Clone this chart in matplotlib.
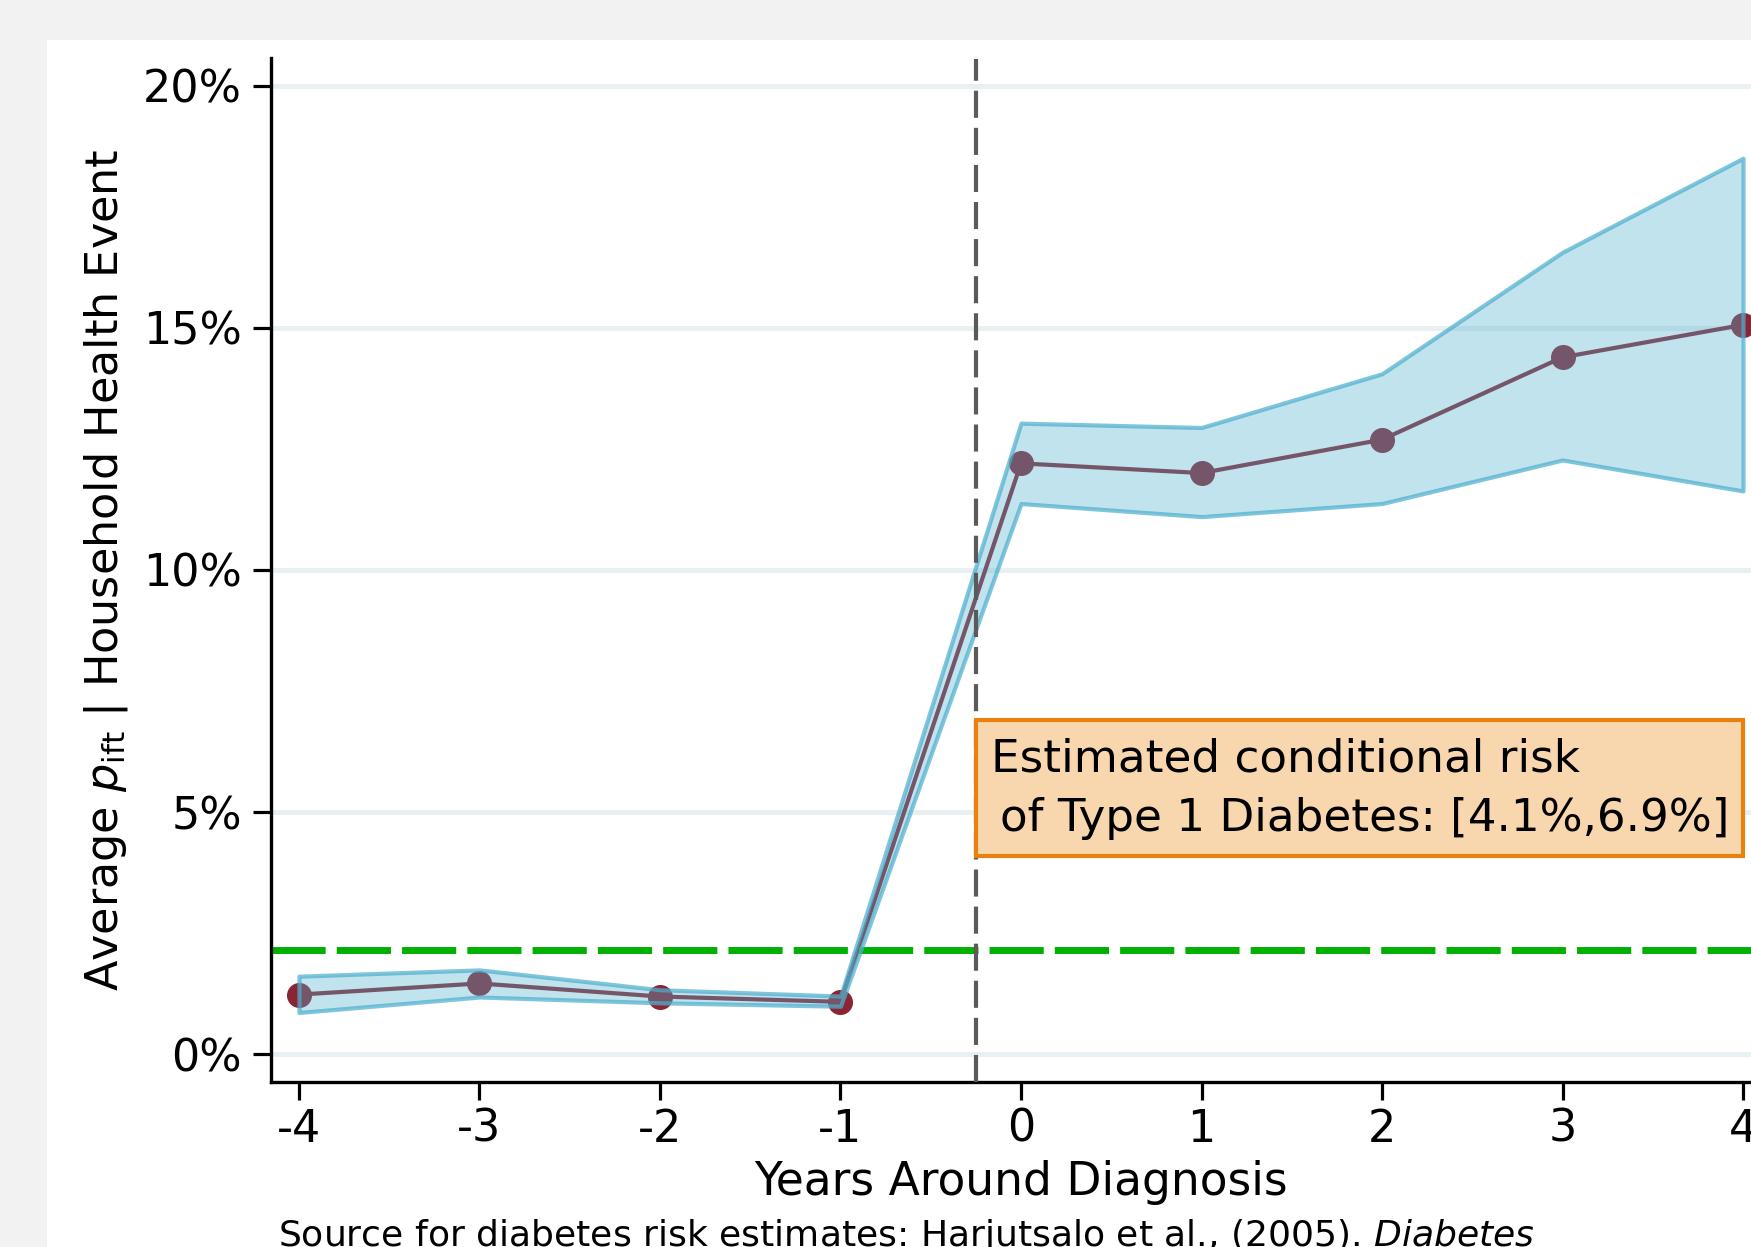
#!/usr/bin/env python3
"""Event-study plot: household health event probability around T1D diagnosis."""

import matplotlib

matplotlib.use("Agg")
import matplotlib.pyplot as plt
from matplotlib.patches import Rectangle


YEARS = [-4, -3, -2, -1, 0, 1, 2, 3, 4]
ESTIMATE = [1.23, 1.46, 1.19, 1.08, 12.20, 12.00, 12.69, 14.39, 15.06]
CI_HIGH = [1.61, 1.74, 1.33, 1.20, 13.03, 12.94, 14.05, 16.56, 18.50]
CI_LOW = [0.86, 1.18, 1.06, 0.99, 11.37, 11.10, 11.37, 12.27, 11.63]

BASELINE_RISK = 2.15
DIAGNOSIS_LINE = -0.25
RISK_LOW = 4.1
RISK_HIGH = 6.9

Y_TICKS = [0, 5, 10, 15, 20]
Y_TICK_LABELS = ["0%", "5%", "10%", "15%", "20%"]

SOURCE_TEXT = "Source for diabetes risk estimates: Harjutsalo et al., (2005). $\\it{Diabetes}$"

RED = "#8b2534"
BAND_FACE = (78 / 255, 175 / 255, 206 / 255, 0.35)
BAND_EDGE = (78 / 255, 175 / 255, 206 / 255, 0.72)
GRID = "#e9f0f2"
FONT = 32

W_PX, H_PX = 1751, 1247


def main() -> None:
  plt.rcParams["axes.unicode_minus"] = False
  plt.rcParams["lines.scale_dashes"] = False
  plt.rcParams["font.family"] = "DejaVu Sans"

  fig = plt.figure(figsize=(W_PX / 100, H_PX / 100), dpi=100, facecolor="#f2f2f2")
  fig.add_artist(Rectangle(
      (47 / W_PX, 0), 1.0, 1 - 40 / H_PX,
      transform=fig.transFigure, facecolor="white", edgecolor="none", zorder=-1,
  ))

  left, right = 271 / W_PX, 1771 / W_PX
  bottom, top = (H_PX - 1082) / H_PX, (H_PX - 58.5) / H_PX
  ax = fig.add_axes([left, bottom, right - left, top - bottom])
  ax.set_xlim(-4.155, 4.155)
  ax.set_ylim(-0.575, 20.56)

  for y in Y_TICKS:
    ax.axhline(y, color=GRID, linewidth=3.6, zorder=0.5)

  ax.plot(YEARS, ESTIMATE, color=RED, linewidth=3.0, marker="o",
          markersize=17, zorder=2)
  ax.fill_between(YEARS, CI_LOW, CI_HIGH, facecolor=BAND_FACE,
                  edgecolor=BAND_EDGE, linewidth=3.0, zorder=3)

  ax.axhline(BASELINE_RISK, color="#00b000", linewidth=5, dashes=(39, 8), zorder=2.5)
  ax.axvline(DIAGNOSIS_LINE, color="#5a5a5a", linewidth=3.0, dashes=(19.5, 7.2), zorder=4)

  ax.add_patch(Rectangle(
      (DIAGNOSIS_LINE, RISK_LOW), YEARS[-1] - DIAGNOSIS_LINE, RISK_HIGH - RISK_LOW,
      facecolor="#f8d6ae", edgecolor="#e8820c", linewidth=3.0, zorder=5,
  ))
  ax.annotate(
      f"Estimated conditional risk\n\u2009of Type 1 Diabetes: [{RISK_LOW}%,{RISK_HIGH}%]",
      xy=(DIAGNOSIS_LINE, RISK_HIGH), xytext=(11, -12.5), textcoords="offset points",
      ha="left", va="top", fontsize=32.6, linespacing=1.5, zorder=6,
  )

  ax.set_xticks(YEARS)
  ax.set_xticklabels([str(y) for y in YEARS])
  ax.set_yticks(Y_TICKS)
  ax.set_yticklabels(Y_TICK_LABELS)
  ax.tick_params(axis="both", direction="out", length=13, width=2.3,
                 labelsize=FONT, color="black")
  ax.tick_params(axis="x", pad=5.5)
  ax.tick_params(axis="y", pad=8)

  for side in ["top", "right"]:
    ax.spines[side].set_visible(False)
  for side in ["left", "bottom"]:
    ax.spines[side].set_linewidth(2.4)
    ax.spines[side].set_color("black")

  ax.set_xlabel("Years Around Diagnosis", fontsize=32.8)
  ax.xaxis.set_label_coords(0.5, -0.0762)
  ax.set_ylabel(r"Average $p_{\mathrm{ift}}$ | Household Health Event", fontsize=FONT)
  ax.yaxis.set_label_coords(-0.094, 0.5)

  fig.text(277.5 / W_PX, 0.0008, SOURCE_TEXT, fontsize=26, ha="left", va="baseline")

  fig.savefig("out.png", dpi=100, facecolor=fig.get_facecolor())
  plt.close(fig)


if __name__ == "__main__":
  main()
